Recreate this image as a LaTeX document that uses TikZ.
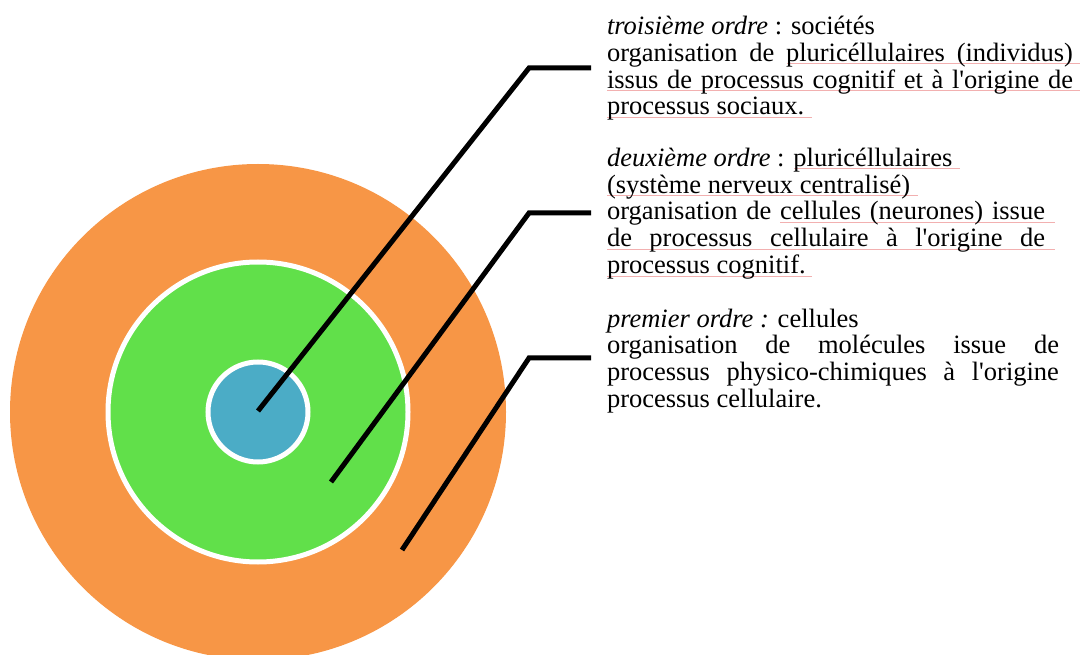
\documentclass[tikz,border=0pt]{standalone}
\usepackage{fontspec}
\setmainfont{Liberation Serif}
\definecolor{ringorange}{HTML}{F79646}
\definecolor{ringgreen}{HTML}{61E04A}
\definecolor{ringblue}{HTML}{4BACC6}
\definecolor{markpink}{HTML}{F2B0B0}
\begin{document}
\begin{tikzpicture}[x=1pt,y=-1pt,
  ring/.style={circle,inner sep=0pt,outer sep=0pt},
  leader/.style={line width=5pt,black,line join=miter},
  txt/.style={anchor=base west,inner sep=0pt,outer sep=0pt,font=\fontsize{26.5}{26.7}\selectfont},
  squiggle/.style={markpink,line width=0.9pt}]
\useasboundingbox (0,0) rectangle (1080,655);
% rings
\node[ring,fill=ringorange,minimum size=496pt] (outer) at (258,412) {};
\node[ring,fill=ringgreen,draw=white,line width=5pt,minimum size=300pt] (middle) at (258,412) {};
\node[ring,fill=ringblue,draw=white,line width=5pt,minimum size=100pt] (inner) at (258,412) {};
% leader end points
\coordinate (s1) at (258,411);
\coordinate (k1) at (529,68);
\coordinate (e1) at (591,68);
\coordinate (s2) at (331,482);
\coordinate (k2) at (529,213);
\coordinate (e2) at (591,213);
\coordinate (s3) at (402,550);
\coordinate (k3) at (529,358);
\coordinate (e3) at (591,358);
\draw[leader] (s1) -- (k1) -- (e1);
\draw[leader] (s2) -- (k2) -- (e2);
\draw[leader] (s3) -- (k3) -- (e3);
% pink marks
\draw[squiggle] (787,63.5) -- (1080,63.5);
\draw[squiggle] (607,90) -- (1080,90);
\draw[squiggle] (607,117) -- (812,117);
\draw[squiggle] (794,168.5) -- (960,168.5);
\draw[squiggle] (607,195) -- (918,195);
\draw[squiggle] (780,222.5) -- (1055,222.5);
\draw[squiggle] (607,249.5) -- (1055,249.5);
\draw[squiggle] (607,276) -- (812,276);
% paragraph 1
\node[txt] (a1) at (607,35) {\textit{troisième ordre} : sociétés};
\node[txt] (a2) at (607,61.7) {\makebox[466pt][s]{organisation de pluricéllulaires (individus)}};
\node[txt] (a3) at (607,88.3) {\makebox[466pt][s]{issus de processus cognitif et à l\textquotesingle origine de}};
\node[txt] (a4) at (607,115) {processus sociaux.};
% paragraph 2
\node[txt] (b1) at (607,166.7) {\textit{deuxième ordre} : pluricéllulaires};
\node[txt] (b2) at (607,193.3) {(système nerveux centralisé)};
\node[txt] (b3) at (607,220) {\makebox[438pt][s]{organisation de cellules (neurones) issue}};
\node[txt] (b4) at (607,246.7) {\makebox[438pt][s]{de processus cellulaire à l\textquotesingle origine de}};
\node[txt] (b5) at (607,273.3) {processus cognitif.};
% paragraph 3
\node[txt] (c1) at (607,327) {\textit{premier ordre :} cellules};
\node[txt] (c2) at (607,353.7) {\makebox[452pt][s]{organisation de molécules issue de}};
\node[txt] (c3) at (607,380.3) {\makebox[452pt][s]{processus physico-chimiques à l\textquotesingle origine}};
\node[txt] (c4) at (607,407) {processus cellulaire.};
\end{tikzpicture}
\end{document}
